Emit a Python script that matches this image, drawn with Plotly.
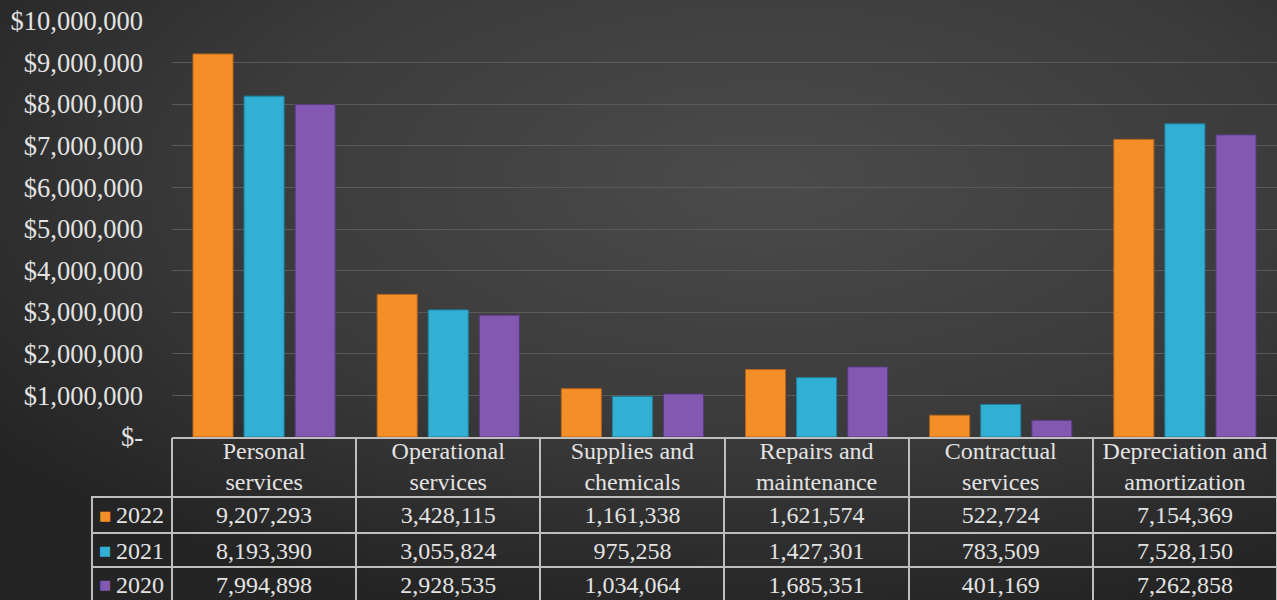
import base64
import plotly.graph_objects as go

categories = ["Personal<br>services", "Operational<br>services", "Supplies and<br>chemicals",
              "Repairs and<br>maintenance", "Contractual<br>services", "Depreciation and<br>amortization"]
years = ["2022", "2021", "2020"]
values_2022 = [9207293, 3428115, 1161338, 1621574, 522724, 7154369]
values_2021 = [8193390, 3055824, 975258, 1427301, 783509, 7528150]
values_2020 = [7994898, 2928535, 1034064, 1685351, 401169, 7262858]
tick_values = [0, 1000000, 2000000, 3000000, 4000000, 5000000, 6000000, 7000000, 8000000, 9000000, 10000000]
tick_labels = ["$-", "$1,000,000", "$2,000,000", "$3,000,000", "$4,000,000", "$5,000,000",
               "$6,000,000", "$7,000,000", "$8,000,000", "$9,000,000", "$10,000,000"]

series = [values_2022, values_2021, values_2020]
colors = ["#F48E26", "#31AFD4", "#8258B0"]
line_colors = ["#B8651C", "#1F7F9B", "#553A7E"]

W, H = 1277, 600
FONT = "Liberation Serif"
TXT = "#E3E3E3"
GRID_C = "#BEBEBE"

svg = f'''<svg xmlns="http://www.w3.org/2000/svg" width="{W}" height="{H}" viewBox="0 0 {W} {H}" preserveAspectRatio="none">
<defs><radialGradient id="g" cx="0.6" cy="0.3" r="0.75" gradientUnits="objectBoundingBox">
<stop offset="0" stop-color="#4b4b4b"/><stop offset="0.55" stop-color="#3b3b3b"/><stop offset="1" stop-color="#242424"/>
</radialGradient></defs><rect width="{W}" height="{H}" fill="url(#g)"/></svg>'''
bg_src = "data:image/svg+xml;base64," + base64.b64encode(svg.encode()).decode()

fig = go.Figure()
for name, vals, c, lc in zip(years, series, colors, line_colors):
    fig.add_trace(go.Bar(x=categories, y=vals, name=name,
                         marker=dict(color=c, line=dict(color=lc, width=1)),
                         showlegend=False))
# empty helper trace so the overlaid boundary-tick axis is drawn
fig.add_trace(go.Scatter(x=[], y=[], xaxis="x2", yaxis="y", showlegend=False, hoverinfo="skip"))

x0 = 172 / W
tbl_left = 92 / W
axis_px = 437
header_px = 60          # category-label band under the axis
first_row_h = 36
row_h = 34
axis_y = (H - axis_px) / H
table_top = (H - axis_px - header_px) / H

rows = [[f"{s[i]:,}" for i in range(len(categories))] for s in series]
first_row = [years[0]] + rows[0]
other_cols = [[years[1], years[2]]] + [[rows[1][i], rows[2][i]] for i in range(len(categories))]

fig.add_trace(go.Table(
    domain=dict(x=[tbl_left, 1], y=[0, table_top]),
    columnwidth=[80] + [184.2] * len(categories),
    header=dict(values=first_row,
                fill=dict(color="rgba(0,0,0,0)"),
                line=dict(color=GRID_C, width=2),
                font=dict(family=FONT, size=24, color=TXT),
                align=["right"] + ["center"] * len(categories), height=first_row_h),
    cells=dict(values=other_cols,
               fill=dict(color="rgba(0,0,0,0)"),
               line=dict(color=GRID_C, width=2),
               font=dict(family=FONT, size=24, color=TXT),
               align=["right"] + ["center"] * len(categories), height=row_h),
))

# legend keys inside the table's first column
annotations = []
row_tops = [axis_px + header_px, axis_px + header_px + first_row_h, axis_px + header_px + first_row_h + row_h]
row_hs = [first_row_h, row_h, row_h]
for c, top, h in zip(colors, row_tops, row_hs):
    cy = top + h / 2
    annotations.append(dict(xref="paper", yref="paper", x=105 / W, y=1 - cy / H,
                            text="■", showarrow=False, xanchor="center", yanchor="middle",
                            font=dict(family="DejaVu Sans", size=13, color=c)))

boundaries = [i - 0.5 for i in range(len(categories) + 1)]

fig.update_layout(
    template="none",
    width=W, height=H,
    margin=dict(l=0, r=0, t=0, b=0, pad=0, autoexpand=False),
    paper_bgcolor="#333333", plot_bgcolor="rgba(0,0,0,0)",
    barmode="group", bargap=0.168, bargroupgap=0.216,
    images=[dict(source=bg_src, xref="paper", yref="paper", x=0, y=1, sizex=1, sizey=1,
                 xanchor="left", yanchor="top", sizing="stretch", layer="below")],
    annotations=annotations,
    xaxis=dict(domain=[x0, 1], range=[-0.5, 5.5], showgrid=False,
               zeroline=False, showline=True, linecolor=GRID_C, linewidth=2,
               ticks="", automargin=False,
               tickfont=dict(family=FONT, size=24, color=TXT), ticklabelstandoff=-9),
    xaxis2=dict(domain=[x0, 1], range=[-0.5, 5.5], type="linear", overlaying="x",
                anchor="y", side="bottom", showgrid=False, zeroline=False, showline=False,
                showticklabels=False, tickvals=boundaries, ticks="outside", ticklen=header_px,
                tickwidth=2, tickcolor=GRID_C, automargin=False),
    yaxis=dict(domain=[axis_y, (H - 21) / H], range=[0, 10000000],
               tickvals=tick_values, ticktext=tick_labels,
               tickfont=dict(family=FONT, size=26.5, color=TXT),
               gridcolor="#5A5A5A", gridwidth=1, zeroline=False, showline=False,
               ticks="", ticklabelstandoff=28, automargin=False),
    font=dict(family=FONT, color=TXT),
)

fig.write_html("out.html", config={"displayModeBar": False},
               post_script="document.body.style.margin='0';document.body.style.overflow='hidden';")
